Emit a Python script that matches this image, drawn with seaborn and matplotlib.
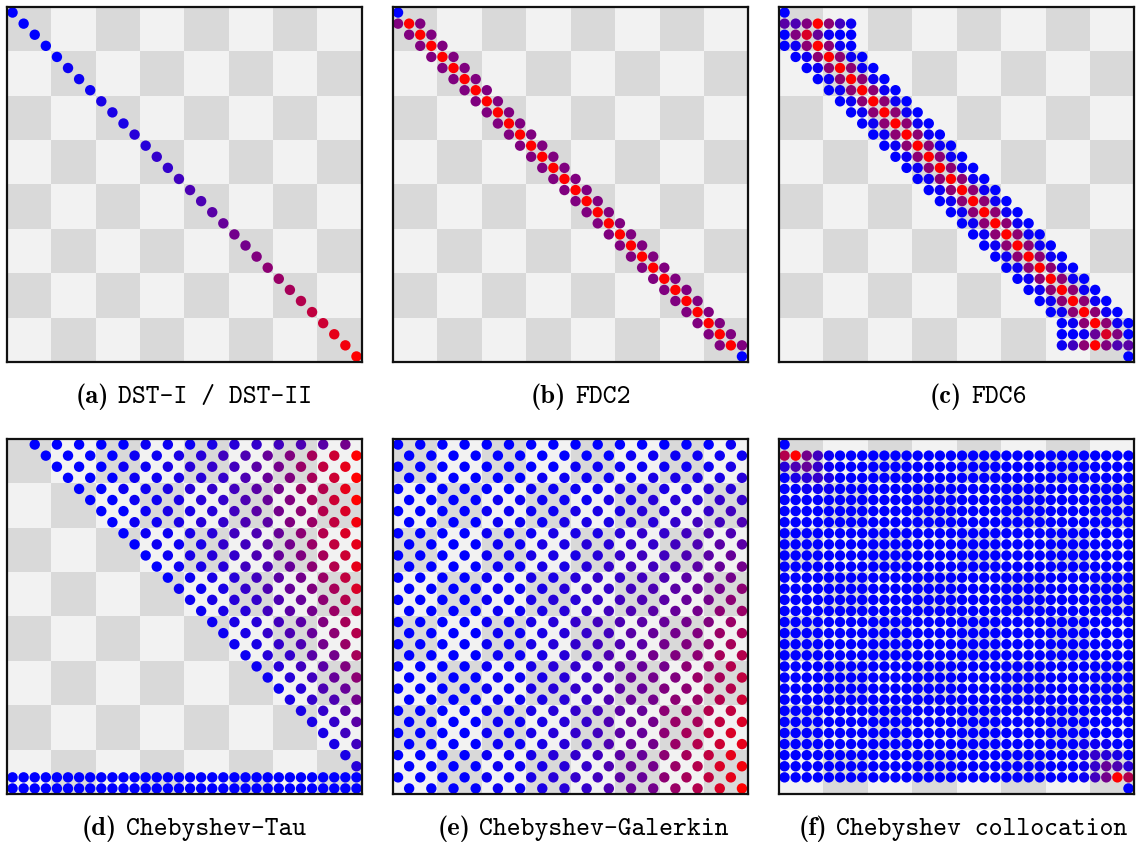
import numpy as np
import pandas as pd
import matplotlib
matplotlib.use("Agg")
import matplotlib.pyplot as plt
import seaborn as sns
from matplotlib.colors import LinearSegmentedColormap, ListedColormap

# magnitude of each matrix entry, one string per row:
# '.' = zero entry, '0'..'9','A'..'K' = 0 .. 1 of the largest |entry| in steps of 1/20
LEVELS = "0123456789ABCDEFGHIJK"

dst = [
    "0...............................",
    ".0..............................",
    "..0.............................",
    "...0............................",
    "....0...........................",
    ".....1..........................",
    "......1.........................",
    ".......1........................",
    "........2.......................",
    ".........2......................",
    "..........2.....................",
    "...........3....................",
    "............3...................",
    ".............4..................",
    "..............4.................",
    "...............5................",
    "................6...............",
    ".................6..............",
    "..................7.............",
    "...................8............",
    "....................9...........",
    ".....................9..........",
    "......................A.........",
    ".......................B........",
    "........................C.......",
    ".........................D......",
    "..........................E.....",
    "...........................F....",
    "............................G...",
    ".............................I..",
    "..............................J.",
    "...............................K",
]

fdc2 = [
    "0...............................",
    "AKA.............................",
    ".AKA............................",
    "..AKA...........................",
    "...AKA..........................",
    "....AKA.........................",
    ".....AKA........................",
    "......AKA.......................",
    ".......AKA......................",
    "........AKA.....................",
    ".........AKA....................",
    "..........AKA...................",
    "...........AKA..................",
    "............AKA.................",
    ".............AKA................",
    "..............AKA...............",
    "...............AKA..............",
    "................AKA.............",
    ".................AKA............",
    "..................AKA...........",
    "...................AKA..........",
    "....................AKA.........",
    ".....................AKA........",
    "......................AKA.......",
    ".......................AKA......",
    "........................AKA.....",
    ".........................AKA....",
    "..........................AKA...",
    "...........................AKA..",
    "............................AKA.",
    ".............................AKA",
    "...............................0",
]

fdc6 = [
    "0...............................",
    "76AKB51.........................",
    "0AH8100.........................",
    "01BKB10.........................",
    ".01BKB10........................",
    "..01BKB10.......................",
    "...01BKB10......................",
    "....01BKB10.....................",
    ".....01BKB10....................",
    "......01BKB10...................",
    ".......01BKB10..................",
    "........01BKB10.................",
    ".........01BKB10................",
    "..........01BKB10...............",
    "...........01BKB10..............",
    "............01BKB10.............",
    ".............01BKB10............",
    "..............01BKB10...........",
    "...............01BKB10..........",
    "................01BKB10.........",
    ".................01BKB10........",
    "..................01BKB10.......",
    "...................01BKB10......",
    "....................01BKB10.....",
    ".....................01BKB10....",
    "......................01BKB10...",
    ".......................01BKB10..",
    "........................01BKB10.",
    ".........................01BKB10",
    ".........................0018HA0",
    ".........................15BKA67",
    "...............................0",
]

cheb_tau = [
    "..0.0.0.0.0.1.1.1.2.3.4.5.6.7.9.",
    "...0.0.0.0.1.1.2.3.5.6.8.A.D.G.K",
    "....0.0.0.1.1.2.3.4.5.7.9.C.F.I.",
    ".....0.0.0.1.1.2.3.4.6.8.A.D.G.K",
    "......0.0.1.1.2.3.4.5.7.9.C.E.I.",
    ".......0.0.1.1.2.3.4.6.8.A.D.G.K",
    "........0.0.1.2.2.3.5.7.9.B.E.H.",
    ".........0.1.1.2.3.4.6.7.A.C.F.J",
    "..........0.1.1.2.3.5.6.8.B.E.H.",
    "...........0.1.1.2.4.5.7.9.C.F.I",
    "............0.1.2.3.4.6.8.A.D.G.",
    ".............0.1.2.3.5.6.8.B.E.I",
    "..............0.1.2.3.5.7.9.C.F.",
    "...............1.1.2.4.6.8.A.D.H",
    "................1.2.3.4.6.8.B.E.",
    ".................1.2.3.5.7.9.C.F",
    "..................1.2.3.5.7.A.D.",
    "...................1.2.4.6.8.B.E",
    "....................1.2.4.6.9.C.",
    ".....................1.3.4.7.9.D",
    "......................1.3.5.7.A.",
    ".......................1.3.5.8.B",
    "........................1.3.6.8.",
    ".........................2.4.6.9",
    "..........................2.4.7.",
    "...........................2.4.7",
    "............................2.5.",
    ".............................2.5",
    "..............................2.",
    "...............................3",
    "00000000000000000000000000000000",
    "00000000000000000000000000000000",
]

cheb_galerkin = [
    "0.0.0.0.0.0.0.0.0.0.0.0.0.0.0.1.",
    ".0.0.0.0.0.0.0.0.0.0.1.1.1.1.1.1",
    "0.0.0.0.0.0.0.0.1.1.1.1.1.1.1.2.",
    ".0.0.0.0.0.0.1.1.1.1.1.2.2.2.2.3",
    "0.0.0.0.0.0.1.1.1.1.2.2.2.2.3.3.",
    ".0.0.0.0.1.1.1.1.1.2.2.3.3.3.4.4",
    "0.0.0.0.1.1.1.1.2.2.2.3.3.4.4.5.",
    ".0.0.0.0.1.1.1.2.2.2.3.3.4.5.5.6",
    "0.0.0.0.1.1.1.2.2.2.3.4.4.5.6.6.",
    ".0.0.0.0.1.1.2.2.3.3.4.4.5.6.7.7",
    "0.0.0.0.1.1.2.2.2.3.4.5.5.6.7.8.",
    ".0.0.0.0.1.1.2.2.3.4.5.5.6.7.8.9",
    "0.0.0.0.1.1.2.2.3.4.4.5.6.7.8.9.",
    ".0.0.0.0.1.1.2.3.4.4.5.6.7.8.9.B",
    "0.0.0.0.1.1.2.3.3.4.5.6.7.8.9.B.",
    ".0.0.0.0.1.1.2.3.4.5.6.7.8.9.B.C",
    "0.0.0.0.1.1.2.3.4.5.6.7.8.9.A.C.",
    ".0.0.0.0.1.1.2.3.4.5.7.8.9.A.C.D",
    "0.0.0.0.1.1.2.3.4.5.6.7.9.A.B.D.",
    ".0.0.0.0.1.1.2.3.4.6.7.9.A.B.D.E",
    "0.0.0.0.1.1.2.3.4.5.7.8.9.B.C.E.",
    ".0.0.0.0.1.1.2.3.4.6.8.9.A.C.D.F",
    "0.0.0.0.1.1.2.3.4.5.7.8.A.B.D.E.",
    ".0.0.0.0.1.1.2.3.4.6.8.9.B.C.E.G",
    "0.0.0.0.1.1.2.3.4.5.7.8.B.C.E.F.",
    ".0.0.0.0.1.1.2.3.4.6.8.9.C.D.F.H",
    "0.0.0.0.1.1.2.3.4.5.7.8.B.D.F.H.",
    ".0.0.0.0.1.1.2.3.4.6.8.9.C.E.G.I",
    "0.0.0.0.1.1.2.3.4.5.7.8.B.D.F.I.",
    ".0.0.0.0.1.1.2.3.4.6.8.9.C.E.H.J",
    "0.0.0.0.1.1.2.3.4.5.7.8.B.D.F.I.",
    ".0.0.0.0.1.1.2.3.4.6.8.9.C.E.H.K",
]

cheb_colloc = [
    "0...............................",
    "EK951000000000000000000000000000",
    "36841000000000000000000000000000",
    "02342000000000000000000000000000",
    "00111000000000000000000000000000",
    "00000000000000000000000000000000",
    "00000000000000000000000000000000",
    "00000000000000000000000000000000",
    "00000000000000000000000000000000",
    "00000000000000000000000000000000",
    "00000000000000000000000000000000",
    "00000000000000000000000000000000",
    "00000000000000000000000000000000",
    "00000000000000000000000000000000",
    "00000000000000000000000000000000",
    "00000000000000000000000000000000",
    "00000000000000000000000000000000",
    "00000000000000000000000000000000",
    "00000000000000000000000000000000",
    "00000000000000000000000000000000",
    "00000000000000000000000000000000",
    "00000000000000000000000000000000",
    "00000000000000000000000000000000",
    "00000000000000000000000000000000",
    "00000000000000000000000000000000",
    "00000000000000000000000000000000",
    "00000000000000000000000000000000",
    "00000000000000000000000000011100",
    "00000000000000000000000000024320",
    "00000000000000000000000000014863",
    "000000000000000000000000000159KE",
    "...............................0",
]

tags = ["(a)", "(b)", "(c)", "(d)", "(e)", "(f)"]
names = ["DST-I / DST-II", "FDC2", "FDC6",
         "Chebyshev-Tau", "Chebyshev-Galerkin", "Chebyshev collocation"]
matrices = [dst, fdc2, fdc6, cheb_tau, cheb_galerkin, cheb_colloc]


def to_frame(rows):
    bad = [i for i, r in enumerate(rows) if len(r) != 32]
    assert len(rows) == 32 and not bad, bad
    recs = [(j, i, LEVELS.index(c))
            for i, r in enumerate(rows) for j, c in enumerate(r) if c != "."]
    return pd.DataFrame(recs, columns=["col", "row", "level"])


W, H = 1136, 843
fig = plt.figure(figsize=(W / 100, H / 100), dpi=100)

blue_red = LinearSegmentedColormap.from_list("blue_red", ["#0000ff", "#ff0000"])
board = np.add.outer(np.arange(8), np.arange(8)) % 2
board_cmap = ListedColormap(["#d9d9d9", "#f2f2f2"])

lefts = [7, 392.5, 779]
tops = [7, 439]
size = 355

for k, mat in enumerate(matrices):
    x0, y0 = lefts[k % 3], tops[k // 3]
    ax = fig.add_axes([x0 / W, 1 - (y0 + size) / H, size / W, size / H])
    ax.imshow(board, cmap=board_cmap, extent=(-0.5, 31.5, 31.5, -0.5),
              interpolation="nearest", aspect="auto", zorder=0)
    sns.scatterplot(data=to_frame(mat), x="col", y="row", hue="level",
                    palette=blue_red, hue_norm=(0, 20), s=56, linewidth=0,
                    legend=False, ax=ax, zorder=2)
    ax.set_xlim(-0.5, 31.5)
    ax.set_ylim(31.5, -0.5)
    ax.set_xticks([])
    ax.set_yticks([])
    ax.set_xlabel("")
    ax.set_ylabel("")
    for sp in ax.spines.values():
        sp.set_linewidth(1.6)
        sp.set_color("#111111")

# captions: bold tag + typewriter name, centred as one group
cap_x = [194, 581, 978, 194, 583, 963]
cap_base = [403, 403, 403, 835, 835, 835]
FS = 19
fig.canvas.draw()
renderer = fig.canvas.get_renderer()
for k in range(6):
    yb = 1 - cap_base[k] / H
    t1 = fig.text(0, yb, tags[k], family=["cmb10", "DejaVu Serif"],
                  fontsize=FS, va="baseline", ha="left")
    t2 = fig.text(0, yb, names[k], family=["cmtt10", "Liberation Mono"],
                  fontsize=FS, va="baseline", ha="left")
    w1 = t1.get_window_extent(renderer).width
    w2 = t2.get_window_extent(renderer).width
    gap = 0.35 * FS * 100 / 72
    start = cap_x[k] - (w1 + gap + w2) / 2
    t1.set_x(start / W)
    t2.set_x((start + w1 + gap) / W)

fig.savefig("out.png", dpi=100)
